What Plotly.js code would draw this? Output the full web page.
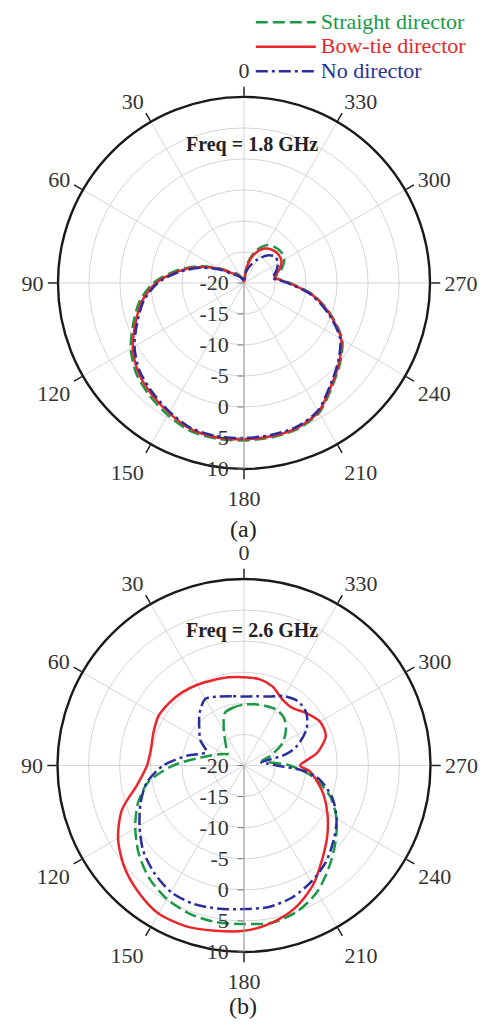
<!DOCTYPE html>
<html>
<head>
<meta charset="utf-8">
<script src="https://cdn.plot.ly/plotly-3.0.1.min.js"></script>
<style>html,body{margin:0;padding:0;background:#fff;}#chart{width:487px;height:1026px;}</style>
</head>
<body>
<div id="chart"></div>
<script>
// ---------- data ----------
const seriesNames = ['Straight director', 'Bow-tie director', 'No director'];
const seriesColors = ['#1a9a45', '#e8262b', '#2b2f9c'];
const panelTitles = ['Freq = 1.8 GHz', 'Freq = 2.6 GHz'];
const panelLabels = ['(a)', '(b)'];
const angleTickVals = [0, 30, 60, 90, 120, 150, 180, 210, 240, 270, 300, 330];
const angleTickLabels = ['0', '30', '60', '90', '120', '150', '180', '210', '240', '270', '300', '330'];
const radialTickVals = [-20, -15, -10, -5, 0, 5, 10];
const radialTickLabels = ['-20', '-15', '-10', '-5', '0', '5', '10'];

// (a) 1.8 GHz
const thetaA = [0,10,20,30,40,50,60,70,80,90,100,110,120,130,140,150,160,170,180,190,200,210,220,230,240,250,260,270,275,280,285,290,300,310,320,330,340,350,360];
const straightA = [-19.7,-19.5,-19.2,-18.7,-18.0,-17.3,-15.2,-12.1,-8.8,-5.4,-2.9,-1.0,1.1,2.7,3.7,4.6,5.4,5.5,5.4,5.3,5.1,4.2,2.0,0.2,-1.7,-5.1,-8.6,-12.6,-14.0,-14.9,-14.4,-13.6,-12.5,-12.2,-12.4,-13.0,-14.5,-16.8,-19.7];
const bowtieA = [-19.8,-19.6,-19.3,-18.9,-18.3,-17.6,-15.5,-12.5,-9.2,-5.8,-3.3,-1.4,0.7,2.3,3.3,4.2,5.1,5.3,5.2,5.1,4.9,4.0,1.8,0.0,-1.9,-5.3,-8.8,-12.8,-14.2,-15.0,-14.7,-14.0,-13.0,-12.8,-13.0,-13.6,-15.0,-17.3,-19.8];
const noneA = [-19.8,-19.6,-19.4,-19.0,-18.5,-17.9,-15.8,-12.8,-9.5,-6.1,-3.6,-1.7,0.4,2.0,3.0,4.0,4.9,5.1,5.0,4.9,4.7,3.8,1.6,-0.2,-2.1,-5.5,-9.0,-13.0,-14.4,-15.4,-15.0,-14.5,-13.7,-13.4,-14.2,-15.6,-17.0,-18.2,-19.8];

// (b) 2.6 GHz
const thetaStraightB = [0,10,20,30,40,50,55,60,70,80,90,100,110,120,130,140,150,160,170,180,190,200,210,220,230,240,250,260,270,280,285,290,300,310,320,330,340,350,360];
const straightB = [-10.2,-10.5,-11.0,-13.5,-15.4,-16.4,-16.8,-16.3,-15.0,-12.8,-8.6,-4.3,-1.8,0.2,2.1,3.7,4.8,5.4,5.6,5.5,5.7,5.0,3.5,1.3,-0.8,-2.8,-5.2,-8.5,-12.6,-16.5,-17.0,-15.5,-12.9,-11.2,-10.0,-9.6,-9.8,-10.0,-10.2];
const thetaBowtieB = [0,10,20,30,40,50,60,70,80,90,100,110,120,130,140,150,160,170,180,190,200,210,220,230,240,250,260,265,270,275,280,290,300,310,320,330,340,350,360];
const bowtieB = [-5.8,-5.6,-5.4,-5.0,-4.6,-4.3,-4.1,-4.5,-4.8,-4.4,-2.6,0.9,3.4,5.2,6.5,7.5,7.5,7.0,6.6,5.7,4.3,2.2,-0.4,-2.5,-4.5,-6.4,-8.4,-9.4,-11.0,-9.8,-8.0,-6.0,-5.9,-6.9,-7.9,-7.7,-6.5,-5.9,-5.8];
const thetaNoneB = [0,10,20,30,40,50,60,70,75,80,90,100,110,120,130,140,150,160,170,180,190,200,210,220,230,240,250,260,265,270,275,280,285,290,300,310,320,330,340,350,360];
const noneB = [-8.9,-8.7,-8.2,-7.6,-8.9,-10.6,-11.9,-13.6,-12.8,-10.8,-7.0,-4.1,-2.3,-0.6,1.2,2.5,3.5,3.7,3.4,3.1,3.1,2.6,1.6,0.4,-1.2,-2.8,-4.9,-7.8,-10.4,-14.7,-16.3,-17.2,-13.0,-11.0,-8.4,-6.9,-6.5,-7.1,-8.2,-8.7,-8.9];

// ---------- styling ----------
const FONT = 'Liberation Serif, Times New Roman, serif';
const dashes = ['12px,5px', 'solid', '12px,4px,3px,4px'];

function mk(theta, r, idx, subplot, showlegend) {
  return {
    type: 'scatterpolar', mode: 'lines', subplot: subplot,
    theta: theta, r: r,
    name: '<span style="color:' + seriesColors[idx] + ';font-size:22px">' + seriesNames[idx] + '</span>',
    line: {color: seriesColors[idx], width: 2.5, dash: dashes[idx], shape: 'spline', smoothing: 0.8},
    showlegend: showlegend, hoverinfo: 'skip'
  };
}

const traces = [
  mk(thetaA, straightA, 0, 'polar', true),
  mk(thetaA, bowtieA, 1, 'polar', true),
  mk(thetaA, noneA, 2, 'polar', true),
  mk(thetaStraightB, straightB, 0, 'polar2', false),
  mk(thetaBowtieB, bowtieB, 1, 'polar2', false),
  mk(thetaNoneB, noneB, 2, 'polar2', false)
];

function polarCfg(dx, dy) {
  return {
    domain: {x: dx, y: dy},
    bgcolor: 'rgba(0,0,0,0)',
    angularaxis: {
      rotation: 90, direction: 'counterclockwise',
      tickmode: 'array', tickvals: angleTickVals, ticktext: angleTickLabels,
      ticks: 'outside', ticklen: 9, tickwidth: 1.5, tickcolor: '#222',
      showline: true, linecolor: '#1a1a1a', linewidth: 2.4,
      showgrid: true, gridcolor: '#d6d6d6', gridwidth: 1,
      tickfont: {family: FONT, size: 22, color: '#333'}
    },
    radialaxis: {
      range: [-20, 10], angle: 270, side: 'clockwise',
      tickmode: 'array', tickvals: radialTickVals, ticktext: radialTickLabels,
      ticks: 'outside', ticklen: 6, tickcolor: '#777', tickwidth: 1,
      showline: true, linecolor: '#9a9a9a', linewidth: 1,
      showgrid: true, gridcolor: '#d6d6d6', gridwidth: 1,
      tickangle: -90,
      tickfont: {family: FONT, size: 22, color: '#333'}
    }
  };
}

const layout = {
  width: 487, height: 1026,
  margin: {l: 0, r: 0, t: 0, b: 0},
  paper_bgcolor: '#ffffff',
  showlegend: true,
  legend: {
    x: 0.515, y: 0.995, xanchor: 'left', yanchor: 'top',
    font: {family: FONT, size: 16.5, color: '#333'},
    bgcolor: 'rgba(0,0,0,0)', itemwidth: 60, tracegroupgap: 0
  },
  polar: polarCfg([0.1191, 0.8830], [0.5429, 0.9055]),
  polar2: polarCfg([0.1181, 0.8840], [0.0721, 0.4357]),
  annotations: [
    {text: '<b>' + panelTitles[0] + '</b>', x: 0.517, y: 0.8596, xref: 'paper', yref: 'paper', showarrow: false,
     font: {family: FONT, size: 20, color: '#222'}, xanchor: 'center', yanchor: 'middle'},
    {text: '<b>' + panelTitles[1] + '</b>', x: 0.517, y: 0.3855, xref: 'paper', yref: 'paper', showarrow: false,
     font: {family: FONT, size: 20, color: '#222'}, xanchor: 'center', yanchor: 'middle'},
    {text: panelLabels[0], x: 0.501, y: 1 - 529/1026, xref: 'paper', yref: 'paper', showarrow: false,
     font: {family: FONT, size: 24, color: '#222'}, xanchor: 'center', yanchor: 'middle'},
    {text: panelLabels[1], x: 0.499, y: 1 - 1006/1026, xref: 'paper', yref: 'paper', showarrow: false,
     font: {family: FONT, size: 24, color: '#222'}, xanchor: 'center', yanchor: 'middle'}
  ]
};

Plotly.newPlot('chart', traces, layout, {staticPlot: true, displayModeBar: false});
</script>
</body>
</html>
